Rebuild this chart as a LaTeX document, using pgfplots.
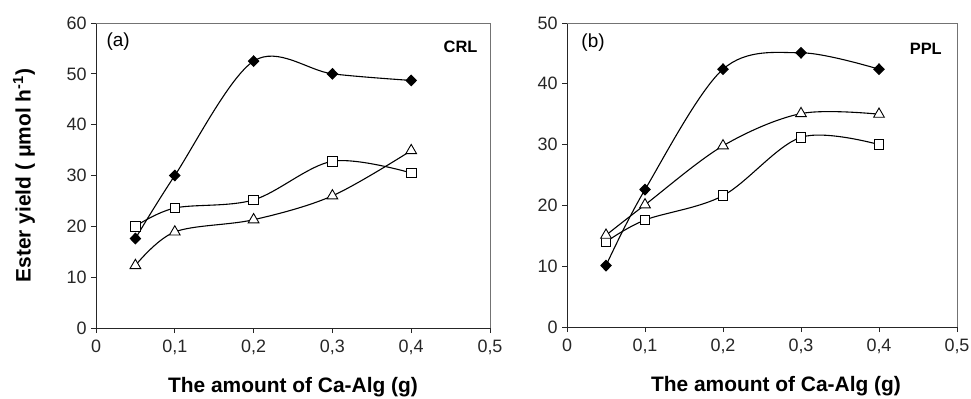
\documentclass[border=0pt]{standalone}
\usepackage{fontspec}
\setmainfont{Liberation Sans}
\usepackage{pgfplots}
\pgfplotsset{compat=1.18}
\pgfplotsset{
  panel/.style={
    scale only axis,
    xmin=0, xmax=0.5, ymin=0,
    xtick={0,0.1,0.2,0.3,0.4,0.5},
    xticklabels={0,{0,1},{0,2},{0,3},{0,4},{0,5}},
    axis x line*=bottom, axis y line*=left,
    axis line style={-, line width=0.9pt, black!85},
    tick align=outside, major tick length=5bp,
    tick style={line width=0.9pt, black!85},
    /pgf/number format/assume math mode=true,
    ticklabel style={font=\fontsize{18}{18}\selectfont, text=black!85},
    xticklabel style={yshift=-3bp},
    yticklabel style={xshift=-1bp},
    xlabel style={font=\bfseries\fontsize{21}{21}\selectfont, at={(axis description cs:0.5,0)}, anchor=center, yshift=-59bp},
    ylabel style={font=\bfseries\fontsize{21}{21}\selectfont},
    clip=false,
  },
  dia/.style={black, line width=1.1pt, smooth, tension=0.55, mark=diamond*, mark size=5.2bp, mark options={xscale=1.3, solid, fill=black}},
  sq/.style={black, line width=1.1pt, smooth, tension=0.55, mark=square*, mark size=4.8bp, mark options={solid, fill=white, line width=0.9pt}},
  tri/.style={black, line width=1.1pt, smooth, tension=0.55, mark=triangle*, mark size=6.2bp, mark options={solid, fill=white, line width=0.9pt}},
}
\begin{document}
\begin{tikzpicture}
\useasboundingbox (0,0) rectangle (971bp,399bp);
% Panel (a)
\begin{axis}[panel, at={(96bp,71bp)}, anchor=south west,
  width=394bp, height=305bp, ymax=60, ytick={0,10,...,60},
  xlabel={The amount of Ca-Alg (g)},
  ylabel={Ester yield ( μmol h\textsuperscript{-1})},
  ylabel style={at={(axis description cs:-0.183,0.5)}, anchor=center}]
\draw[black!55, line width=0.9pt] (rel axis cs:0,1) -- (rel axis cs:1,1) -- (rel axis cs:1,0);
\addplot[tri] coordinates {(0.05,12.3) (0.1,18.9) (0.2,21.3) (0.3,26.0) (0.4,34.9)};
\addplot[sq] coordinates {(0.05,20.0) (0.1,23.6) (0.2,25.2) (0.3,32.8) (0.4,30.5)};
\addplot[dia] coordinates {(0.05,17.6) (0.1,30.0) (0.2,52.5) (0.3,50.0) (0.4,48.7)};
\node[anchor=west, font=\fontsize{19}{19}\selectfont] at (axis description cs:0.018,0.938) {(a)};
\node[anchor=east, font=\bfseries\fontsize{16.5}{16.5}\selectfont] at (axis description cs:0.977,0.921) {CRL};
\end{axis}
% Panel (b)
\begin{axis}[panel, at={(567bp,72bp)}, anchor=south west,
  width=390bp, height=304bp, ymax=50, ytick={0,10,...,50},
  xlabel={The amount of Ca-Alg (g)},
  xlabel style={xshift=14bp}]
\draw[black!55, line width=0.9pt] (rel axis cs:0,1) -- (rel axis cs:1,1) -- (rel axis cs:1,0);
\addplot[sq] coordinates {(0.05,14.0) (0.1,17.6) (0.2,21.6) (0.3,31.2) (0.4,30.0)};
\addplot[tri] coordinates {(0.05,15.1) (0.1,20.1) (0.2,29.8) (0.3,35.1) (0.4,35.0)};
\addplot[dia] coordinates {(0.05,10.1) (0.1,22.6) (0.2,42.4) (0.3,45.1) (0.4,42.4)};
\node[anchor=west, font=\fontsize{19}{19}\selectfont] at (axis description cs:0.028,0.934) {(b)};
\node[anchor=east, font=\bfseries\fontsize{16.5}{16.5}\selectfont] at (axis description cs:0.970,0.914) {PPL};
\end{axis}
\end{tikzpicture}
\end{document}
